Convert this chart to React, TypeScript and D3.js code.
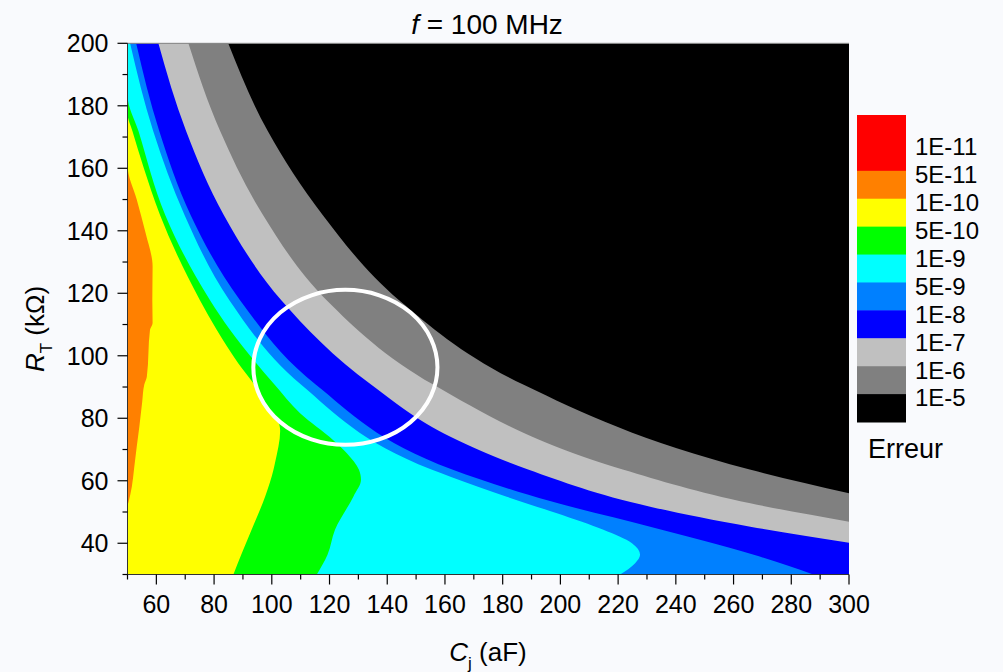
import React from "react";
import * as d3 from "d3";

// axis ticks
const cjMajor = [60, 80, 100, 120, 140, 160, 180, 200, 220, 240, 260, 280, 300];
const cjMinor = [50, 70, 90, 110, 130, 150, 170, 190, 210, 230, 250, 270, 290];
const rtMajor = [40, 60, 80, 100, 120, 140, 160, 180, 200];
const rtMinor = [30, 50, 70, 90, 110, 130, 150, 170, 190];

// level boundaries, as [Cj (aF), RT (kOhm)]
const edgeGrayBlack = [[84.9, 200], [98.6, 171.9], [117.7, 145], [144.1, 117.8], [187.3, 90.7], [265.6, 63.6], [300, 56], [300, 30]];
const edgeSilverGray = [[71.1, 200], [82.1, 171.9], [97, 145], [119, 117.8], [156.1, 90.7], [221.6, 63.6], [265.8, 52.8], [300, 46.9], [300, 30]];
const edgeBlueSilver = [[60.7, 200], [70.3, 171.9], [83.4, 145], [103.3, 117.8], [134.5, 90.7], [161.9, 74.1], [188.8, 63.6], [231.1, 51.7], [265.8, 45.3], [300, 40.2], [300, 30]];
const edgeAzureBlue = [[53, 200], [61, 171.9], [71.9, 145], [89, 117.8], [115.3, 90.7], [162.5, 63.6], [196.4, 53.5], [231.1, 45.3], [267, 36.3], [287.6, 30]];
const edgeCyanAzure = [[50.9, 200], [58.9, 171.9], [69.8, 145], [85.3, 117.8], [110.2, 90.7], [155.3, 63.6], [161.9, 61.3], [181.4, 54.9], [198.8, 49.6], [214.9, 44.3], [224.8, 40], [227.6, 36.3], [225.9, 33.6], [220.7, 30]];
const edgeGreenCyan = [[50, 200], [50, 183.4], [53.8, 171.9], [63.1, 145], [78.6, 117.8], [85.5, 108.3], [101, 90.7], [109.8, 81.6], [121.3, 73], [126, 68.8], [130.2, 63.5], [130.9, 60.3], [128.3, 55], [121.9, 44.3], [119.3, 36.3], [115.6, 30]];
const edgeYellowGreen = [[50, 200], [50, 177.5], [51.7, 171.9], [55.5, 160.5], [61.3, 145], [75.1, 117.8], [80.9, 108.3], [88.3, 97.7], [94, 90.7], [97.7, 85], [102.6, 78], [102.9, 76], [101.1, 65.7], [100.6, 63.6], [97.7, 55], [93, 44.3], [89.4, 36.3], [86.7, 30]];
const edgeOrangeYellow = [[50, 200], [50, 161], [53.2, 150], [56.3, 139.2], [58.7, 128.5], [58.6, 117.8], [58.7, 110.5], [57.8, 108.3], [56.7, 93.3], [55.8, 90.7], [55.1, 85.3], [54.1, 77.3], [53.2, 70.9], [52.3, 64], [51.5, 58.1], [50.3, 53], [50, 52], [50, 30]];

// colour scale
const legendColors = ["#ff0000", "#ff0000", "#ff8000", "#ffff00", "#00ff00", "#00ffff", "#0080ff", "#0000ff", "#c0c0c0", "#808080", "#000000"];
const legendLabels = ["1E-11", "5E-11", "1E-10", "5E-10", "1E-9", "5E-9", "1E-8", "1E-7", "1E-6", "1E-5"];

// highlighted zone (centre Cj, centre RT, half-width aF, half-height kOhm)
const zone = [125.5, 96.3, 31.9, 24.8];

const font = "'Liberation Sans', Arial, Helvetica, sans-serif";

export default function App() {
  const x = d3.scaleLinear().domain([50, 300]).range([127.5, 849]);
  const y = d3.scaleLinear().domain([30, 200]).range([574.5, 43.3]);
  const lg = d3.scaleLinear().domain([0, 11]).range([115, 422]);

  const area = d3
    .area<number[]>()
    .y((d) => y(d[1]))
    .x0(x(50))
    .x1((d) => x(d[0]))
    .curve(d3.curveMonotoneY);

  const flat = d3.area<number[]>().y((d) => y(d[1])).x0(x(50)).x1((d) => x(d[0]));

  // once an edge reaches the right wall the rest is a straight run down the wall;
  // both parts go in one path so there is no seam between them
  const shape = (edge: number[][]) => {
    const k = edge.findIndex((p) => p[0] >= 300);
    if (k < 0 || k === edge.length - 1) return area(edge) || "";
    return (area(edge.slice(0, k + 1)) || "") + (flat(edge.slice(k)) || "");
  };

  // painted back to front, each from the left edge to its boundary
  const layers = [
    { fill: "#808080", edge: edgeGrayBlack },
    { fill: "#c0c0c0", edge: edgeSilverGray },
    { fill: "#0000ff", edge: edgeBlueSilver },
    { fill: "#0080ff", edge: edgeAzureBlue },
    { fill: "#00ffff", edge: edgeCyanAzure },
    { fill: "#00ff00", edge: edgeGreenCyan },
    { fill: "#ffff00", edge: edgeYellowGreen },
    { fill: "#ff8000", edge: edgeOrangeYellow },
  ];

  const x0 = x(50), x1 = x(300), yb = y(30), yt = y(200);

  return (
    <div style={{ position: "absolute", left: 0, top: 0, width: 1003, height: 672, background: "#f9fafd" }}>
      <svg width={1003} height={672} style={{ display: "block" }} fontFamily={font}>
        <defs>
          <clipPath id="plot">
            <rect x={x0} y={yt} width={x1 - x0} height={yb - yt} />
          </clipPath>
        </defs>
        <g clipPath="url(#plot)">
          <rect x={x0} y={yt} width={x1 - x0} height={yb - yt} fill="#000" />
          {layers.map((l, i) => (
            <path key={i} d={shape(l.edge)} fill={l.fill} fillRule="nonzero" />
          ))}
          <ellipse
            cx={x(zone[0])}
            cy={y(zone[1])}
            rx={x(zone[0] + zone[2]) - x(zone[0])}
            ry={y(zone[1]) - y(zone[1] + zone[3])}
            fill="none"
            stroke="#fff"
            strokeWidth={4}
          />
        </g>

        {/* frame */}
        <line x1={x0} x2={x1} y1={yt} y2={yt} stroke="#8a8a8a" strokeWidth={1} />
        <line x1={x0} x2={x0} y1={yt} y2={yb} stroke="#333" strokeWidth={1} />
        <line x1={x0} x2={x1} y1={yb} y2={yb} stroke="#333" strokeWidth={1} />

        {/* x axis */}
        {cjMajor.map((v) => (
          <g key={"xm" + v}>
            <line x1={x(v)} x2={x(v)} y1={yb} y2={yb + 10} stroke="#000" strokeWidth={1.2} />
            <text x={x(v)} y={613} textAnchor="middle" fontSize={25} fill="#000">{v}</text>
          </g>
        ))}
        {cjMinor.map((v) => (
          <line key={"xn" + v} x1={x(v)} x2={x(v)} y1={yb} y2={yb + 5} stroke="#000" strokeWidth={1.2} />
        ))}

        {/* y axis */}
        {rtMajor.map((v) => (
          <g key={"ym" + v}>
            <line x1={x0 - 10} x2={x0} y1={y(v)} y2={y(v)} stroke="#000" strokeWidth={1.2} />
            <text x={108.5} y={y(v)} dy="0.35em" textAnchor="end" fontSize={25} fill="#000">{v}</text>
          </g>
        ))}
        {rtMinor.map((v) => (
          <line key={"yn" + v} x1={x0 - 5} x2={x0} y1={y(v)} y2={y(v)} stroke="#000" strokeWidth={1.2} />
        ))}

        {/* titles */}
        <text x={487} y={34} textAnchor="middle" fontSize={28} fill="#000">
          <tspan fontStyle="italic">f</tspan> = 100 MHz
        </text>
        <text x={488} y={661} textAnchor="middle" fontSize={26} fill="#000">
          <tspan fontStyle="italic">C</tspan>
          <tspan fontSize={17} dy={8}>j</tspan>
          <tspan dy={-8}> (aF)</tspan>
        </text>
        <text transform="translate(44,329) rotate(-90)" textAnchor="middle" fontSize={26} fill="#000">
          <tspan fontStyle="italic">R</tspan>
          <tspan fontSize={17} dy={8}>T</tspan>
          <tspan dy={-8}> (kΩ)</tspan>
        </text>

        {/* colour scale */}
        {legendColors.map((c, i) => (
          <rect key={"lc" + i} x={857} y={lg(i)} width={49} height={lg(i + 1) - lg(i) + 0.5} fill={c} />
        ))}
        {legendLabels.map((t, i) => (
          <text key={"ll" + t} x={915} y={lg(i + 1) + 4} dy="0.35em" fontSize={24} fill="#000">{t}</text>
        ))}
        <text x={868} y={458} fontSize={27} fill="#000">Erreur</text>
      </svg>
    </div>
  );
}
